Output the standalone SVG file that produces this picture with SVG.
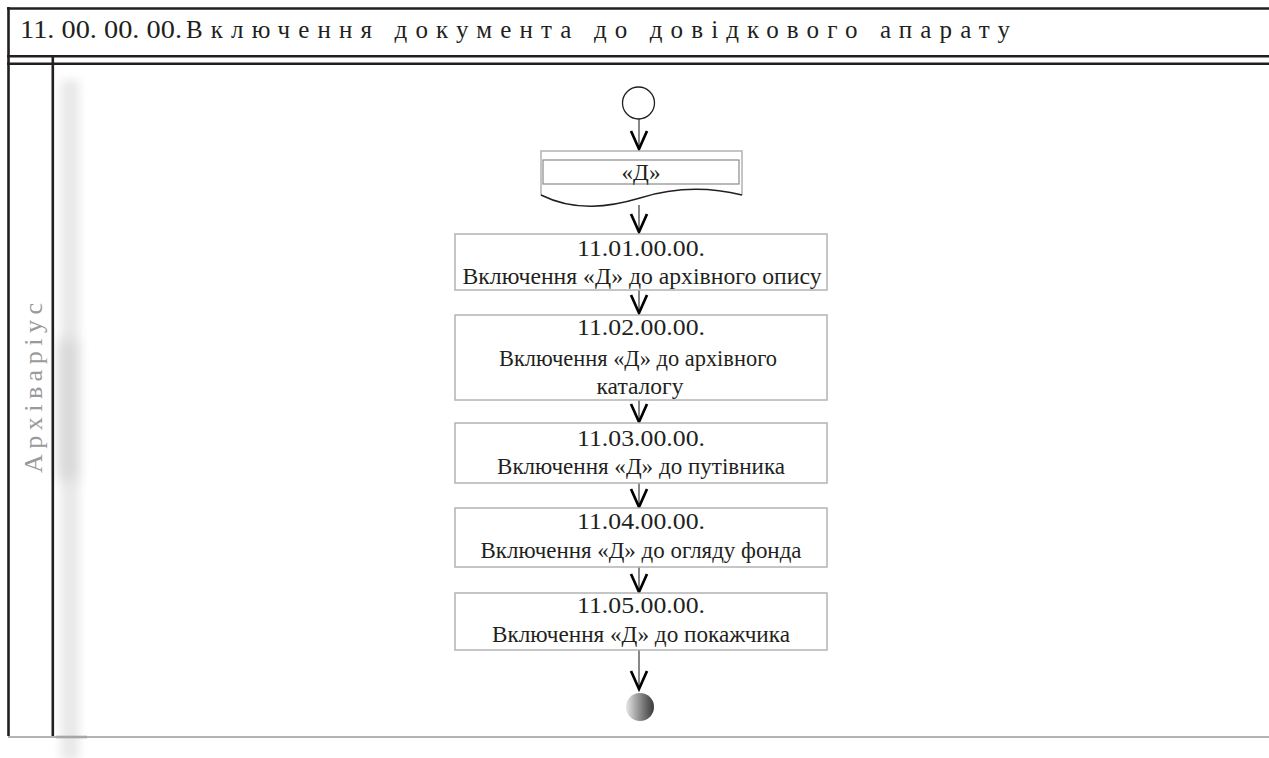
<svg xmlns="http://www.w3.org/2000/svg" width="1269" height="758" viewBox="0 0 1269 758">
<style>
.frame{stroke:#231f20;stroke-width:2.6;fill:none}
.box{fill:#fff;stroke:#b3b3b3;stroke-width:1.5}
.t{font-family:"Liberation Serif","Times New Roman",serif;font-size:23px;fill:#231f20;text-anchor:middle}
.conn{stroke:#3a3a3a;stroke-width:1.2;fill:none}
</style>
<defs>
<marker id="arr" markerUnits="userSpaceOnUse" markerWidth="24" markerHeight="24" refX="0" refY="0" viewBox="-20 -12 24 24" orient="auto">
<path d="M-18,-8 L0,0 L-18,8" fill="none" stroke="#000" stroke-width="2.7"/>
</marker>
<filter id="blur" x="-80%" y="-10%" width="260%" height="120%"><feGaussianBlur stdDeviation="5"/></filter>
<filter id="blur2" x="-100%" y="-30%" width="300%" height="160%"><feGaussianBlur stdDeviation="7"/></filter>
<linearGradient id="endg" x1="0" y1="0" x2="1" y2="0">
<stop offset="0" stop-color="#e6e6e6"/>
<stop offset="0.6" stop-color="#7a7a7a"/>
<stop offset="1" stop-color="#3a3a3a"/>
</linearGradient>
</defs>
<rect width="1269" height="758" fill="#fff"/>
<g id="shadow">
<rect x="61" y="80" width="18" height="680" fill="#e8e8e8" filter="url(#blur)"/>
<rect x="60" y="340" width="16" height="140" fill="#d6d6d6" filter="url(#blur2)"/>
</g>
<g id="frame">
<line class="frame" x1="7" y1="8.5" x2="1269" y2="8.5" stroke-width="3"/>
<line class="frame" x1="8.5" y1="7" x2="8.5" y2="736"/>
<line class="frame" x1="7" y1="56.2" x2="1269" y2="56.2"/>
<line class="frame" x1="7" y1="63.8" x2="1269" y2="63.8" stroke-width="2.3"/>
<line class="frame" x1="52.8" y1="56" x2="52.8" y2="737" stroke-width="2.3"/>
<line x1="8" y1="737" x2="1269" y2="737" stroke="#b3b3b3" stroke-width="2"/>
<line x1="56" y1="737" x2="87" y2="737" stroke="#a6a6a6" stroke-width="2.6"/>
</g>
<g id="title">
<text x="20" y="38" font-family="Liberation Serif,serif" font-size="25" fill="#231f20" textLength="162" lengthAdjust="spacingAndGlyphs">11. 00. 00. 00.</text>
<text x="186" y="38" font-family="Liberation Serif,serif" font-size="25" fill="#231f20" textLength="824" lengthAdjust="spacing">Включення документа до довідкового апарату</text>
</g>
<g id="lane">
<text transform="translate(42,388) rotate(-90)" font-family="Liberation Serif,serif" font-size="26" fill="#9a9a9a" text-anchor="middle" textLength="170" lengthAdjust="spacing">Архіваріус</text>
</g>
<g id="connectors">
<line class="conn" x1="639" y1="119" x2="639" y2="149" marker-end="url(#arr)"/>
<line class="conn" x1="639" y1="205" x2="639" y2="232" marker-end="url(#arr)"/>
<line class="conn" x1="639" y1="290" x2="639" y2="313" marker-end="url(#arr)"/>
<line class="conn" x1="639" y1="400" x2="639" y2="422" marker-end="url(#arr)"/>
<line class="conn" x1="639" y1="483" x2="639" y2="507" marker-end="url(#arr)"/>
<line class="conn" x1="639" y1="567" x2="639" y2="592" marker-end="url(#arr)"/>
<line class="conn" x1="639" y1="650" x2="639" y2="689" marker-end="url(#arr)"/>
</g>
<g id="start">
<circle cx="638.5" cy="103" r="16" fill="#fff" stroke="#231f20" stroke-width="1.3"/>
</g>
<g id="doc">
<path d="M541,195 L541,151 L742,151 L742,195" fill="#fff" stroke="#b3b3b3" stroke-width="1.5"/>
<path d="M541,195 C575,212 610,207 640,198 C672,188 705,186 742,195" fill="none" stroke="#231f20" stroke-width="1.5"/>
<rect x="543" y="160" width="196" height="24" fill="#fff" stroke="#8a8a8a" stroke-width="1.2"/>
<text class="t" x="641" y="180" textLength="39" lengthAdjust="spacingAndGlyphs">«Д»</text>
</g>
<g id="n1101">
<rect class="box" x="455" y="234" width="372" height="56"/>
<text class="t" x="641" y="256" textLength="128" lengthAdjust="spacingAndGlyphs">11.01.00.00.</text>
<text class="t" x="642" y="284" textLength="359" lengthAdjust="spacingAndGlyphs">Включення «Д» до архівного опису</text>
</g>
<g id="n1102">
<rect class="box" x="455" y="315" width="372" height="85"/>
<text class="t" x="641" y="335" textLength="128" lengthAdjust="spacingAndGlyphs">11.02.00.00.</text>
<text class="t" x="638" y="366" textLength="278" lengthAdjust="spacingAndGlyphs">Включення «Д» до архівного</text>
<text class="t" x="640" y="394" textLength="87" lengthAdjust="spacingAndGlyphs">каталогу</text>
</g>
<g id="n1103">
<rect class="box" x="455" y="423" width="372" height="60"/>
<text class="t" x="641" y="446" textLength="128" lengthAdjust="spacingAndGlyphs">11.03.00.00.</text>
<text class="t" x="641" y="474" textLength="288" lengthAdjust="spacingAndGlyphs">Включення «Д» до путівника</text>
</g>
<g id="n1104">
<rect class="box" x="455" y="508" width="372" height="59"/>
<text class="t" x="641" y="529" textLength="128" lengthAdjust="spacingAndGlyphs">11.04.00.00.</text>
<text class="t" x="641" y="558" textLength="321" lengthAdjust="spacingAndGlyphs">Включення «Д» до огляду фонда</text>
</g>
<g id="n1105">
<rect class="box" x="455" y="593" width="372" height="57"/>
<text class="t" x="641" y="613" textLength="128" lengthAdjust="spacingAndGlyphs">11.05.00.00.</text>
<text class="t" x="641" y="642" textLength="298" lengthAdjust="spacingAndGlyphs">Включення «Д» до покажчика</text>
</g>
<g id="end">
<circle cx="640" cy="707" r="14" fill="url(#endg)"/>
</g>
</svg>
